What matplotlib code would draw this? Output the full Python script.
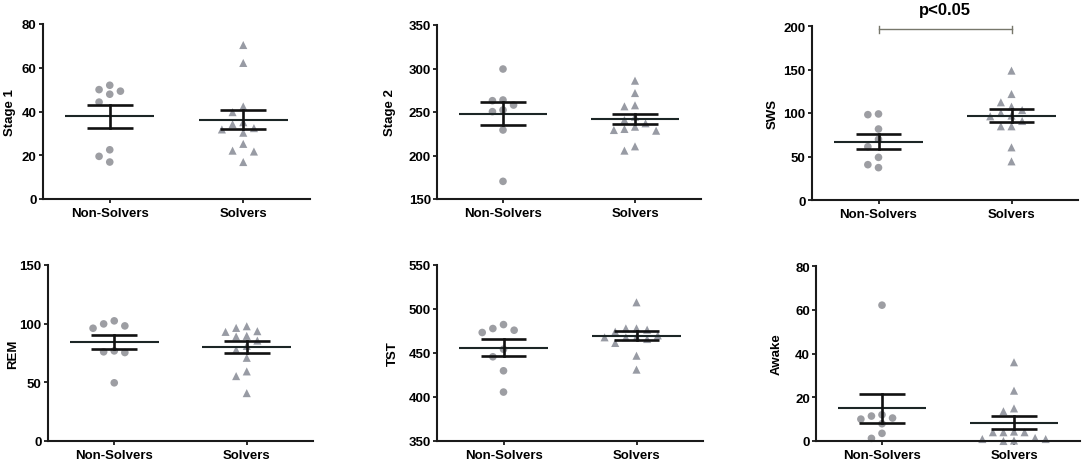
import matplotlib
matplotlib.use("Agg")
import matplotlib.pyplot as plt
import numpy as np

plt.rcParams['font.family'] = ['Liberation Sans', 'DejaVu Sans']
plt.rcParams['font.weight'] = 'bold'

# ---------------- data ----------------
groups = ["Non-Solvers", "Solvers"]
panel_labels = ["Stage 1", "Stage 2", "SWS", "REM", "TST", "Awake"]

stage1_ns = [52.0, 50.0, 49.3, 47.9, 44.3, 22.5, 19.5, 16.9]
stage1_s = [70.4, 62.2, 42.3, 39.7, 35.1, 34.2, 32.4, 31.8, 30.3, 25.2, 22.1, 21.7, 16.9]
stage2_ns = [299.4, 263.8, 263.0, 258.0, 252.3, 250.4, 229.3, 170.3]
stage2_s = [286.0, 271.8, 257.7, 256.5, 244.6, 240.8, 237.0, 233.1, 230.5, 229.3, 228.5, 210.5, 205.6]
sws_ns = [98.9, 98.1, 81.6, 69.7, 61.3, 49.0, 40.6, 37.2]
sws_s = [148.7, 121.8, 112.3, 107.3, 103.4, 100.0, 97.0, 96.2, 90.8, 84.7, 84.7, 60.5, 44.4]
rem_ns = [102.4, 99.8, 98.1, 96.1, 76.8, 76.0, 75.4, 49.6]
rem_s = [97.8, 96.4, 93.6, 93.0, 89.6, 89.0, 85.6, 81.0, 77.7, 70.9, 59.3, 55.3, 40.8]
tst_ns = [482.3, 477.8, 475.9, 473.3, 454.3, 445.7, 429.8, 405.6]
tst_s = [507.6, 478.0, 478.0, 476.5, 474.2, 470.0, 468.0, 467.8, 467.8, 465.9, 461.4, 446.9, 431.1]
awake_ns = [62.1, 12.0, 11.4, 10.5, 10.0, 7.9, 3.5, 1.2]
awake_s = [36.0, 23.0, 14.9, 13.6, 4.3, 4.0, 4.0, 4.0, 1.4, 0.9, 0.9, 0.2, 0.0]

ns_values = [stage1_ns, stage2_ns, sws_ns, rem_ns, tst_ns, awake_ns]
s_values = [stage1_s, stage2_s, sws_s, rem_s, tst_s, awake_s]

ns_mean = [37.9, 248.1, 66.8, 84.2, 455.9, 14.9]
ns_sem = [5.25, 13.2, 8.65, 6.2, 9.85, 6.8]
s_mean = [36.2, 242.0, 97.1, 79.9, 469.7, 8.45]
s_sem = [4.35, 5.95, 7.1, 5.0, 5.3, 3.15]

y_limits = [(0, 80), (150, 350), (0, 200), (0, 150), (350, 550), (0, 80)]
y_ticks = [[0, 20, 40, 60, 80], [150, 200, 250, 300, 350], [0, 50, 100, 150, 200],
           [0, 50, 100, 150], [350, 400, 450, 500, 550], [0, 20, 40, 60, 80]]

sig_text = "p<0.05"
sig_y = 196

# ---------------- layout (pixels) ----------------
W, H = 1084, 464
rects_px = [(43, 25, 310, 200), (437, 26, 701, 200), (812, 27, 1078, 201),
            (48, 266, 313, 442), (437, 266, 703, 442), (816, 267, 1080, 442)]
label_off_px = [33, 47, 39, 35, 44, 39]

fig = plt.figure(figsize=(W / 100, H / 100), dpi=100)

c_circle = '#9d9ea3'
c_tri = '#989ba4'
axis_col = '#1a1a1a'


def swarm(vals, px_per_unit, step, thr_px=8.5):
    order = np.argsort(-np.asarray(vals), kind='stable')
    placed = {}
    offs = np.zeros(len(vals))
    slots = [0]
    for k in range(1, 8):
        slots += [-k, k]
    for i in order:
        v = vals[i]
        for s in slots:
            ok = all(abs(v - u) * px_per_unit >= thr_px for u in placed.get(s, []))
            if ok:
                placed.setdefault(s, []).append(v)
                offs[i] = s * step
                break
    return offs


for idx in range(6):
    l, t, r, b = rects_px[idx]
    ax = fig.add_axes([l / W, 1 - b / H, (r - l) / W, (b - t) / H])
    y0, y1 = y_limits[idx]
    ax.set_xlim(-0.5, 1.5)
    ax.set_ylim(y0, y1)
    ppu = (b - t) / (y1 - y0)
    step = 0.08

    for gi, (vals, marker, col) in enumerate([(ns_values[idx], 'o', c_circle),
                                               (s_values[idx], '^', c_tri)]):
        offs = swarm(vals, ppu, step)
        ax.scatter(gi + offs, vals, marker=marker, s=30 if marker == 'o' else 34,
                   color=col, edgecolors='none', zorder=2, clip_on=False)

    for gi, (m, se) in enumerate([(ns_mean[idx], ns_sem[idx]), (s_mean[idx], s_sem[idx])]):
        ax.plot([gi - 0.335, gi + 0.335], [m, m], color='#1c2626', lw=1.5, zorder=3,
                solid_capstyle='butt')
        ax.plot([gi, gi], [m - se, m + se], color='#111111', lw=1.9, zorder=4)
        for yy in (m - se, m + se):
            ax.plot([gi - 0.172, gi + 0.172], [yy, yy], color='#111111', lw=1.9,
                    zorder=4, solid_capstyle='butt')

    for sp in ['top', 'right']:
        ax.spines[sp].set_visible(False)
    for sp in ['left', 'bottom']:
        ax.spines[sp].set_linewidth(1.5)
        ax.spines[sp].set_color(axis_col)
    ax.set_xticks([0, 1])
    ax.set_xticklabels(groups, fontsize=9.5, fontweight='bold')
    ax.set_yticks(y_ticks[idx])
    ax.set_yticklabels([str(v) for v in y_ticks[idx]], fontsize=9.5, fontweight='bold')
    ax.tick_params(axis='both', direction='out', length=3, width=1.3, color=axis_col,
                   pad=1.5)
    ax.tick_params(axis='x', pad=2.5)
    ax.set_ylabel(panel_labels[idx], fontsize=9.5, fontweight='bold')
    ax.yaxis.set_label_coords(-label_off_px[idx] / (r - l), 0.5)
    ax.yaxis.label.set_va('center')

    if idx == 2:
        ax.plot([0, 1], [sig_y, sig_y], color='#77776b', lw=1.0, clip_on=False, zorder=3)
        tick_h = 3.5 / ppu
        for xx in (0, 1):
            ax.plot([xx, xx], [sig_y - tick_h, sig_y + tick_h], color='#77776b', lw=1.0,
                    clip_on=False, zorder=3)
        ax.text(0.5, 1 + 17 / (b - t), sig_text, transform=ax.get_xaxis_transform(),
                ha='center', va='center', fontsize=12, fontweight='bold')

fig.savefig("out.png", dpi=100)
